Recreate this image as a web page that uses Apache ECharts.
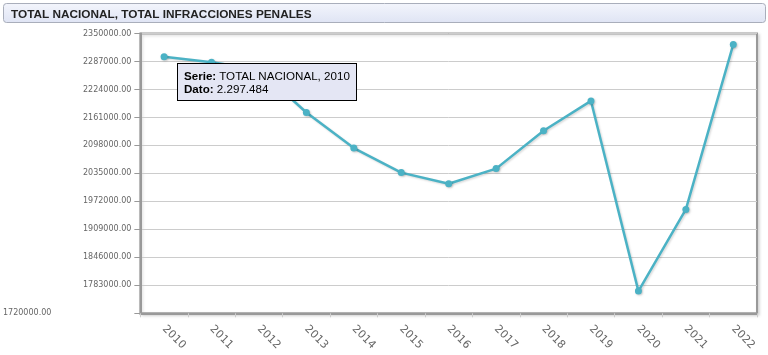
<!DOCTYPE html>
<html>
<head>
<meta charset="utf-8">
<script src="https://cdn.jsdelivr.net/npm/echarts@6/dist/echarts.min.js"></script>
<style>
html,body{margin:0;padding:0;background:#fff;}
#chart{width:768px;height:355px;}
</style>
</head>
<body>
<div id="chart"></div>
<script>
var chartTitle = 'TOTAL NACIONAL, TOTAL INFRACCIONES PENALES';
var seriesName = 'TOTAL NACIONAL';
var years = ['2010','2011','2012','2013','2014','2015','2016','2017','2018','2019','2020','2021','2022'];
var totals = [2297484, 2285525, 2268867, 2172135, 2092040, 2036815, 2011586, 2045787, 2131118, 2198173, 1769960, 1953836, 2325358];
var yMin = 1720000;
var yMax = 2350000;
var yStep = 63000;

function thousands(v){ return String(v).replace(/\B(?=(\d{3})+(?!\d))/g, '.'); }

var chart = echarts.init(document.getElementById('chart'), null, {renderer:'canvas'});
chart.setOption({
  animation: false,
  backgroundColor: '#fff',
  title: {
    text: chartTitle,
    left: 6, top: 4,
    textStyle: {fontFamily: 'Liberation Sans, Arial, sans-serif', fontSize: 11.8, fontWeight: 'bold', color: '#222'}
  },
  graphic: [{
    type: 'rect', z: -1,
    shape: {x: 3.5, y: 3.5, width: 762, height: 19, r: 3},
    style: {
      fill: new echarts.graphic.LinearGradient(0,0,0,1,[{offset:0,color:'#f3f5fc'},{offset:1,color:'#dfe4f4'}]),
      stroke: '#a9aebb', lineWidth: 1
    }
  }],
  grid: {
    left: 138.5, right: 11, top: 33.5, bottom: 41.7,
    show: true, borderColor: '#999', borderWidth: 2,
    shadowColor: 'rgba(0,0,0,0.15)', shadowBlur: 3, shadowOffsetX: 1.5, shadowOffsetY: 1.5,
    backgroundColor: '#fff'
  },
  tooltip: {
    trigger: 'item',
    triggerOn: 'none',
    alwaysShowContent: true,
    transitionDuration: 0,
    position: function(){ return [177, 63]; },
    padding: [5, 6],
    backgroundColor: '#e4e6f4',
    borderColor: '#000',
    borderWidth: 1,
    textStyle: {color: '#000', fontSize: 11.6, fontFamily: 'Liberation Sans, Arial, sans-serif'},
    extraCssText: 'box-shadow:none;border-radius:0;line-height:13px;',
    formatter: function(p){
      return '<b>Serie:</b> ' + p.seriesName + ', ' + p.name + '<br><b>Dato:</b> ' + thousands(p.value);
    }
  },
  xAxis: {
    type: 'category',
    data: years,
    boundaryGap: true,
    axisLine: {lineStyle: {color: '#999', width: 2}},
    axisTick: {show: true, length: 4, lineStyle: {color: '#ccc'}},
    axisLabel: {rotate: -45, margin: 14, color: '#666', fontSize: 11, fontFamily: 'DejaVu Sans, Verdana, sans-serif'},
    splitLine: {show: false}
  },
  yAxis: {
    type: 'value',
    min: yMin, max: yMax, interval: yStep,
    axisLine: {show: true, lineStyle: {color: '#999', width: 2}},
    axisTick: {show: true, length: 6, lineStyle: {color: '#999'}},
    axisLabel: {
      margin: 9, color: '#666', fontSize: 8, fontFamily: 'DejaVu Sans, Verdana, sans-serif',
      formatter: function(v){
        var s = v.toFixed(2);
        return v === yMin ? '{m|' + s + '}' : s;
      },
      rich: {m: {padding: [0, 80, 0, 0], color: '#666', fontSize: 8, fontFamily: 'DejaVu Sans, Verdana, sans-serif'}}
    },
    splitLine: {show: true, lineStyle: {color: '#cccccc', width: 1}}
  },
  series: [{
    name: seriesName,
    type: 'line',
    data: totals,
    symbol: 'circle',
    symbolSize: 7,
    itemStyle: {color: '#4bb2c5', shadowColor: 'rgba(0,0,0,0.2)', shadowBlur: 2, shadowOffsetX: 1, shadowOffsetY: 1},
    lineStyle: {color: '#4bb2c5', width: 2.5, shadowColor: 'rgba(0,0,0,0.15)', shadowBlur: 2, shadowOffsetX: 1.2, shadowOffsetY: 1.2}
  }]
});
chart.dispatchAction({type: 'showTip', seriesIndex: 0, dataIndex: 0});
</script>
</body>
</html>
